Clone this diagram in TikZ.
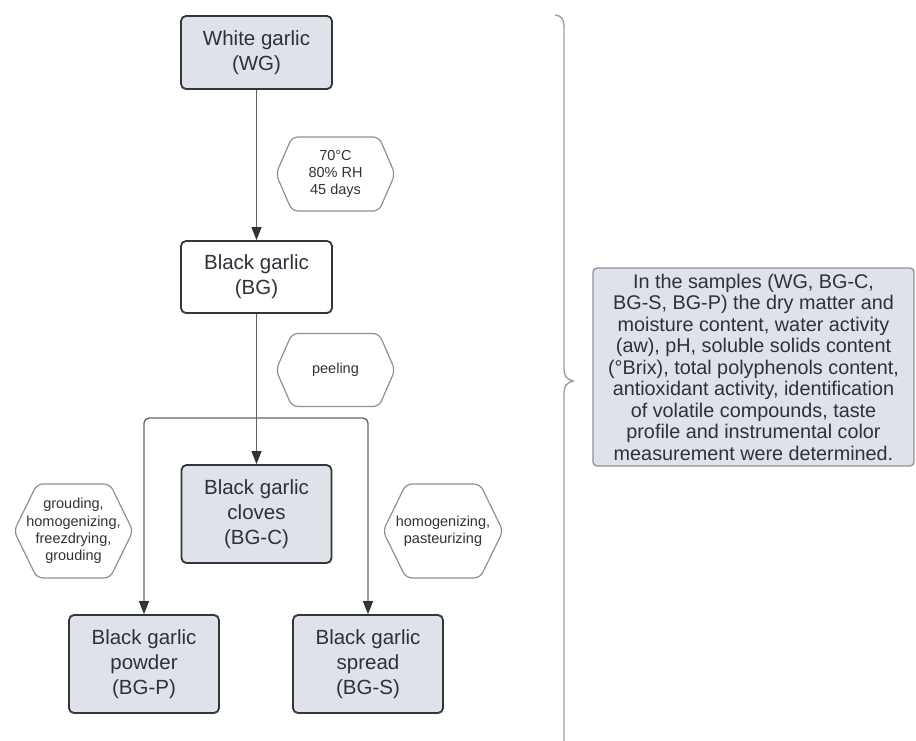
\documentclass[tikz,border=0pt]{standalone}
\usepackage{fontspec}
\setmainfont{Liberation Sans}
\usetikzlibrary{arrows.meta}
\definecolor{boxfill}{HTML}{DFE3E9}
\definecolor{boxdraw}{HTML}{30363D}
\definecolor{hexdraw}{HTML}{8C9096}
\definecolor{connc}{HTML}{5D636A}
\definecolor{arrowc}{HTML}{2D333A}
\definecolor{txtc}{HTML}{2E3238}
\definecolor{bracec}{HTML}{9A9DA1}
\definecolor{notedraw}{HTML}{8E9399}
\newcommand\hexat[7]{%
  \node[hextext] (#1) at (#2,#3) {#7};
  \draw[hexline] (#2-#4/2,#3) -- (#2-#4/2+#6,#3-#5/2) -- (#2+#4/2-#6,#3-#5/2)
    -- (#2+#4/2,#3) -- (#2+#4/2-#6,#3+#5/2) -- (#2-#4/2+#6,#3+#5/2) -- cycle;
}
\begin{document}
\begin{tikzpicture}[x=1pt,y=-1pt,
  procbox/.style={draw=boxdraw, line width=1.8pt, rounded corners=5pt, fill=boxfill,
    inner sep=0pt, minimum width=150pt, minimum height=98pt, align=center,
    text=txtc, font=\fontsize{20.5}{25}\selectfont},
  plainbox/.style={procbox, fill=white},
  hextext/.style={inner sep=0pt, align=center, text=txtc, font=\fontsize{14.5}{17.4}\selectfont},
  hexline/.style={draw=hexdraw, line width=1.2pt, rounded corners=6pt},
  conn/.style={draw=connc, line width=1.3pt, -{Triangle[width=10pt,length=13pt,color=arrowc]}},
  plainline/.style={draw=connc, line width=1.3pt},
  notebox/.style={draw=notedraw, line width=1.3pt, rounded corners=4pt, fill=boxfill,
    inner sep=0pt, minimum width=321pt, minimum height=198pt, align=center,
    text=txtc, font=\fontsize{19.8}{21.5}\selectfont},
  bracel/.style={draw=bracec, line width=1.4pt}
]
\useasboundingbox (0,0) rectangle (916,740);

% main boxes
\node[procbox, minimum width=151pt, minimum height=73pt] (WG) at (256.5,52.5) {White garlic\\(WG)};
\node[plainbox, minimum width=151pt, minimum height=72pt] (BG) at (256.5,277) {Black garlic\\(BG)};
\node[procbox] (BGC) at (256.5,514) {Black garlic\\cloves\\(BG-C)};
\node[procbox] (BGP) at (144,664) {Black garlic\\powder\\(BG-P)};
\node[procbox] (BGS) at (368,664) {Black garlic\\spread\\(BG-S)};

% hexagon labels
\hexat{h1}{335.5}{174}{119}{74}{16}{70°C\\80\% RH\\45 days}
\hexat{h2}{335.5}{370}{119}{73}{16}{peeling}
\hexat{h3}{73.5}{531}{119}{94}{23}{grouding,\\homogenizing,\\freezdrying,\\grouding}
\hexat{h4}{443}{531}{120}{94}{23}{homogenizing,\\pasteurizing}

% connectors
\coordinate (j) at (256.5,418);
\draw[conn] (WG.south) -- (BG.north);
\draw[plainline] (BG.south) -- (j);
\draw[conn] (j) -- (BGC.north);
\draw[conn, rounded corners=5pt] (j) -| (BGP.north);
\draw[conn, rounded corners=5pt] (j) -| (BGS.north);

% note box
\node[notebox] (note) at (753.5,367) {In the samples (WG, BG-C,\\BG-S, BG-P) the dry matter and\\moisture content, water activity\\(aw), pH, soluble solids content\\(°Brix), total polyphenols content,\\antioxidant activity, identification\\of volatile compounds, taste\\profile and instrumental color\\measurement were determined.};

% brace
\draw[bracel] (555,15) .. controls (561,15.5) and (564,19) .. (564,26)
  -- (564,369) .. controls (564,376) and (567,379.5) .. (573,381)
  .. controls (567,382.5) and (564,386) .. (564,393) -- (564,745);
\end{tikzpicture}
\end{document}
